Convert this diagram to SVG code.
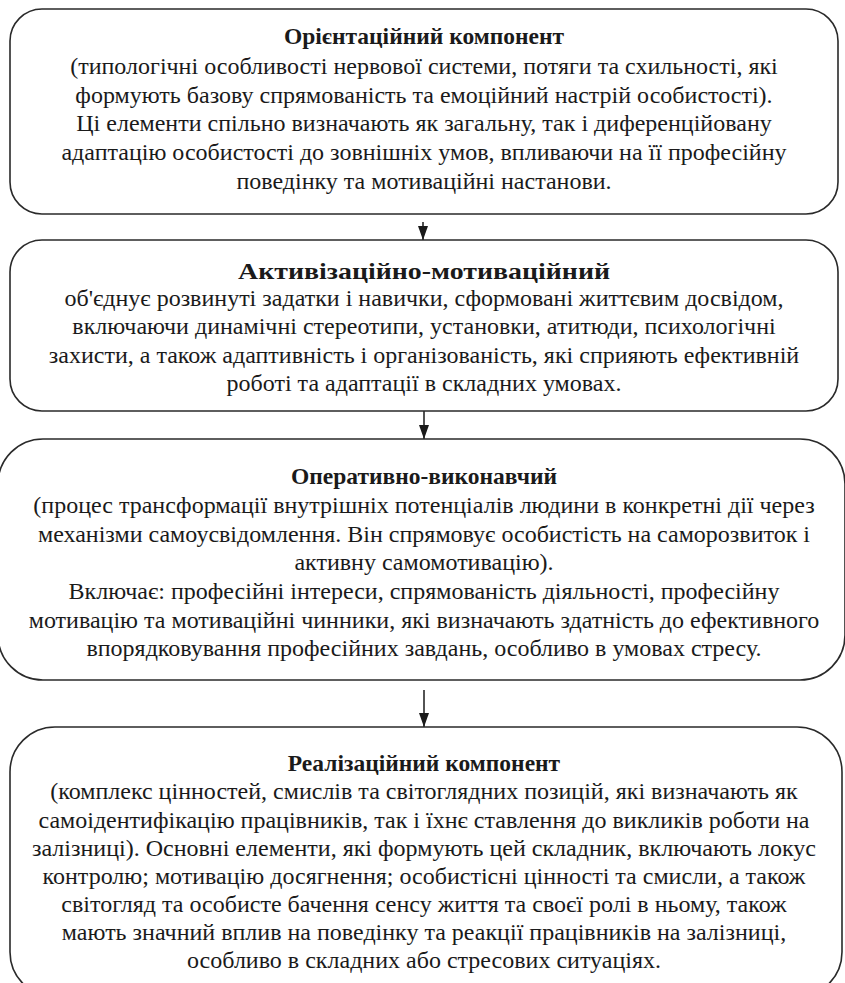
<svg xmlns="http://www.w3.org/2000/svg" width="845" height="983" viewBox="0 0 845 983">
<defs>
<style>
.box{fill:#fff;stroke:#2a2a2a;stroke-width:1.6}
.t{font-family:"Liberation Serif","Times New Roman",serif;font-size:24px;fill:#1a1a1a;text-anchor:middle}
.h{font-weight:bold;font-size:23.5px}
.conn{stroke:#1a1a1a;stroke-width:1.5;fill:none}
</style>
<marker id="ah" viewBox="0 0 14 10" refX="14" refY="5" markerWidth="14" markerHeight="10" markerUnits="userSpaceOnUse" orient="auto">
<path d="M0,0 L14,5 L0,10 z" fill="#1a1a1a"/>
</marker>
</defs>
<rect width="845" height="983" fill="#fff"/>
<g id="connectors">
<line class="conn" x1="423" y1="222" x2="423" y2="240" marker-end="url(#ah)"/>
<line class="conn" x1="424" y1="402" x2="424" y2="439" marker-end="url(#ah)"/>
<line class="conn" x1="424" y1="690" x2="424" y2="727" marker-end="url(#ah)"/>
</g>
<g id="n1">
<rect class="box" x="10" y="9" width="828" height="205" rx="32"/>
<text class="t h" x="424" y="44">Орієнтаційний компонент</text>
<text class="t" x="424" y="74">(типологічні особливості нервової системи, потяги та схильності, які</text>
<text class="t" x="424" y="103">формують базову спрямованість та емоційний настрій особистості).</text>
<text class="t" x="424" y="131">Ці елементи спільно визначають як загальну, так і диференційовану</text>
<text class="t" x="424" y="160">адаптацію особистості до зовнішніх умов, впливаючи на її професійну</text>
<text class="t" x="424" y="189">поведінку та мотиваційні настанови.</text>
</g>
<g id="n2">
<rect class="box" x="10" y="240" width="828" height="171" rx="32"/>
<text class="t h" x="424" y="279" font-size="31px" textLength="372" lengthAdjust="spacingAndGlyphs">Активізаційно-мотиваційний</text>
<text class="t" x="424" y="306">об'єднує розвинуті задатки і навички, сформовані життєвим досвідом,</text>
<text class="t" x="424" y="334">включаючи динамічні стереотипи, установки, атитюди, психологічні</text>
<text class="t" x="424" y="363">захисти, а також адаптивність і організованість, які сприяють ефективній</text>
<text class="t" x="424" y="391">роботі та адаптації в складних умовах.</text>
</g>
<g id="n3">
<rect class="box" x="-2" y="439" width="847" height="241" rx="45"/>
<text class="t h" x="424" y="484">Оперативно-виконавчий</text>
<text class="t" x="424" y="513">(процес трансформації внутрішніх потенціалів людини в конкретні дії через</text>
<text class="t" x="424" y="542">механізми самоусвідомлення. Він спрямовує особистість на саморозвиток і</text>
<text class="t" x="424" y="570">активну самомотивацію).</text>
<text class="t" x="424" y="599">Включає: професійні інтереси, спрямованість діяльності, професійну</text>
<text class="t" x="424" y="628">мотивацію та мотиваційні чинники, які визначають здатність до ефективного</text>
<text class="t" x="424" y="656">впорядковування професійних завдань, особливо в умовах стресу.</text>
</g>
<g id="n4">
<rect class="box" x="10" y="727" width="832" height="270" rx="45"/>
<text class="t h" x="424" y="771">Реалізаційний компонент</text>
<text class="t" x="424" y="799">(комплекс цінностей, смислів та світоглядних позицій, які визначають як</text>
<text class="t" x="424" y="828">самоідентифікацію працівників, так і їхнє ставлення до викликів роботи на</text>
<text class="t" x="424" y="856">залізниці). Основні елементи, які формують цей складник, включають локус</text>
<text class="t" x="424" y="884">контролю; мотивацію досягнення; особистісні цінності та смисли, а також</text>
<text class="t" x="424" y="912">світогляд та особисте бачення сенсу життя та своєї ролі в ньому, також</text>
<text class="t" x="424" y="940">мають значний вплив на поведінку та реакції працівників на залізниці,</text>
<text class="t" x="424" y="968">особливо в складних або стресових ситуаціях.</text>
</g>
</svg>
